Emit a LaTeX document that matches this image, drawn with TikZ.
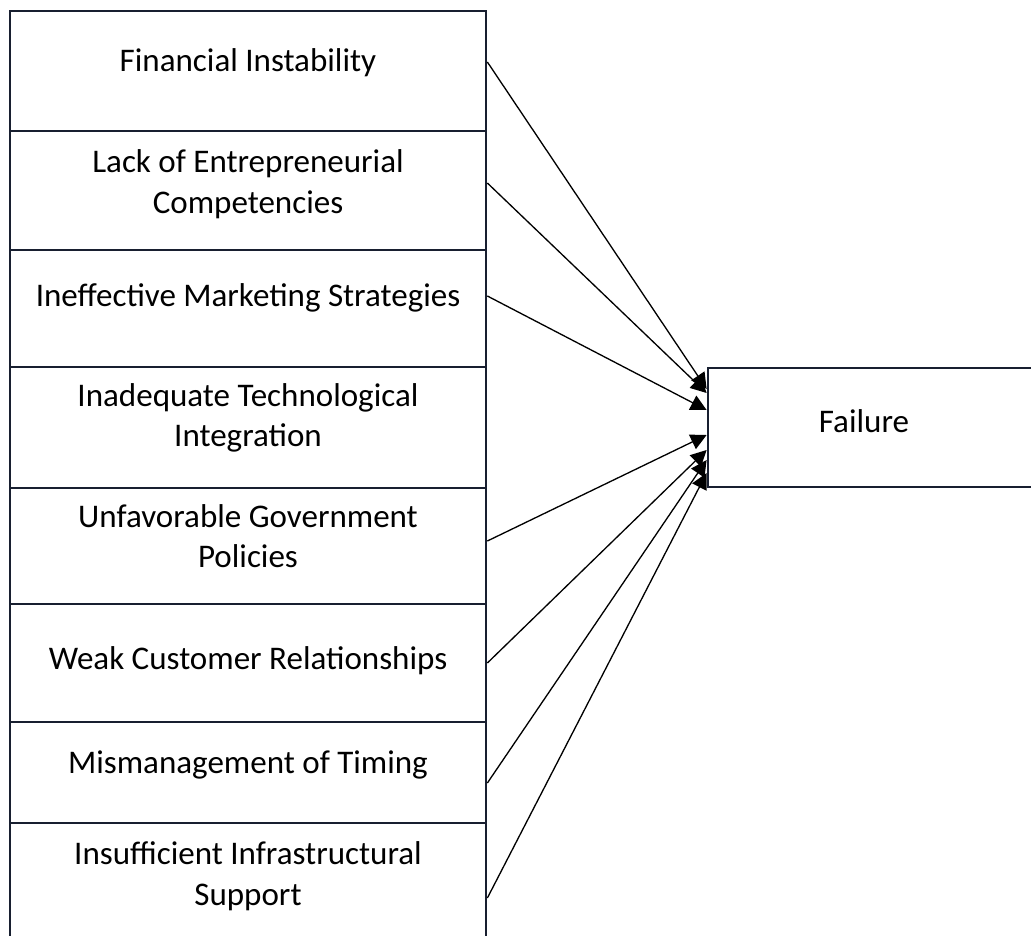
\documentclass[tikz,border=0pt]{standalone}
\usepackage{fontspec}
\setmainfont{Carlito}
\usepackage{tikz}
\usetikzlibrary{arrows.meta}
\usetikzlibrary{positioning}
\definecolor{boxline}{RGB}{24,31,48}

\tikzset{
  cell/.style={draw=boxline, line width=1.6pt, minimum width=9.52cm, inner sep=0pt},
  cause/.style={align=center, inner sep=0pt, font=\fontsize{18.8}{23}\selectfont},
  arr/.style={-{Triangle[length=9pt,width=9pt]}, line width=0.75pt, black}
}

\begin{document}
\begin{tikzpicture}[x=0.02cm,y=-0.02cm]
\useasboundingbox (0,0) rectangle (1031,936);
% stacked boxes on the left
\foreach \i/\top/\bot in {1/11/131, 2/131/250, 3/250/367, 4/367/488,
                          5/488/604, 6/604/722, 7/722/823, 8/823/946}
  \node[cell, minimum height={(\bot-\top)*0.02cm}] (b\i) at (248,{(\top+\bot)/2}) {};
\node[cause] (l1) at (248,63)  {Financial Instability};
\node[cause] (l2) at (248,184) {Lack of Entrepreneurial\\Competencies};
\node[cause] (l3) at (248,298) {Ineffective Marketing Strategies};
\node[cause] (l4) at (248,418) {Inadequate Technological\\Integration};
\node[cause] (l5) at (248,536) {Unfavorable Government\\Policies};
\node[cause] (l6) at (248,661) {Weak Customer Relationships};
\node[cause] (l7) at (248,765) {Mismanagement of Timing};
\node[cause] (l8) at (248,876) {Insufficient Infrastructural\\Support};
% outcome box
\node[cell, minimum width=6.64cm, minimum height=2.38cm] (f) at (874,427.5) {};
\node[cause] (fl) at (864,421) {Failure};
% arrows into the outcome
\foreach \i/\ys/\ye in {1/62/389, 2/183/393, 3/296/410, 5/541/435,
                        6/663/450, 7/783/460, 8/898/473}
  \draw[arr] (b\i.east |- 0,\ys) -- (f.west |- 0,\ye);
\end{tikzpicture}
\end{document}
